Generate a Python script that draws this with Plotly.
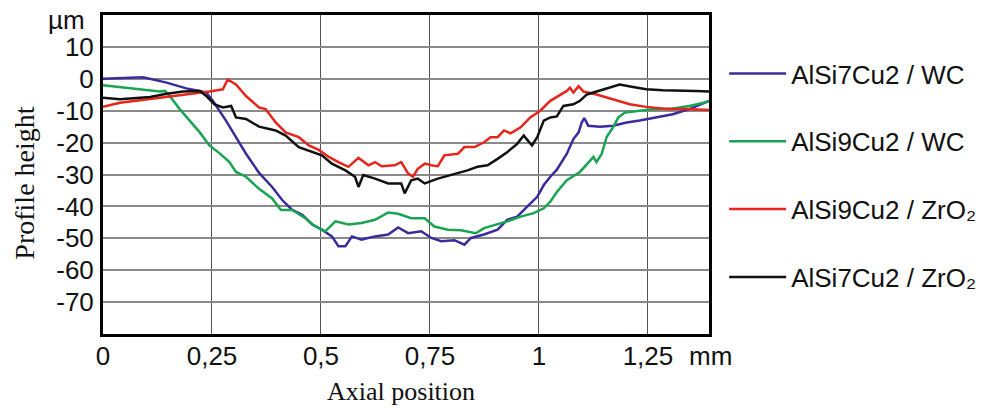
import plotly.graph_objects as go

# ---- data ----
x_blue = [0.0, 0.092, 0.146, 0.191, 0.222, 0.237, 0.252, 0.282, 0.305, 0.328, 0.358, 0.366, 0.388, 0.411, 0.434,
          0.457, 0.480, 0.502, 0.525, 0.540, 0.556, 0.571, 0.593, 0.624, 0.654, 0.677, 0.700, 0.730, 0.753, 0.776,
          0.806, 0.829, 0.844, 0.874, 0.905, 0.927, 0.950, 0.973, 0.996, 1.011, 1.026, 1.041, 1.064, 1.079, 1.091,
          1.098, 1.104, 1.113, 1.140, 1.170, 1.201, 1.231, 1.269, 1.307, 1.345, 1.390]
y_blue = [0.0, 0.5, -1.2, -3.0, -3.8, -4.3, -6.9, -13.1, -18.3, -23.5, -29.5, -30.7, -33.9, -38.0, -41.1,
          -42.6, -45.7, -47.3, -49.4, -52.5, -52.5, -49.4, -50.4, -49.4, -48.8, -46.6, -48.4, -47.8, -49.9, -50.9,
          -50.6, -52.0, -49.9, -48.8, -47.3, -44.2, -43.2, -40.1, -37.0, -33.3, -30.7, -28.5, -23.5, -18.9, -16.8,
          -13.7, -12.3, -14.7, -15.0, -14.7, -13.7, -13.1, -12.1, -11.1, -9.5, -6.9]

x_green = [0.0, 0.039, 0.085, 0.130, 0.142, 0.153, 0.176, 0.199, 0.222, 0.244, 0.267, 0.290, 0.305, 0.328, 0.358,
           0.388, 0.408, 0.434, 0.464, 0.487, 0.510, 0.533, 0.563, 0.593, 0.624, 0.654, 0.677, 0.707, 0.738, 0.760,
           0.791, 0.821, 0.855, 0.874, 0.905, 0.927, 0.958, 0.988, 1.011, 1.026, 1.041, 1.064, 1.094, 1.110, 1.125,
           1.132, 1.144, 1.155, 1.170, 1.182, 1.197, 1.231, 1.269, 1.307, 1.345, 1.390]
y_green = [-2.0, -2.6, -3.3, -4.0, -3.8, -5.4, -9.5, -13.1, -16.8, -20.9, -23.3, -26.1, -29.2, -30.7, -34.5,
           -37.5, -41.1, -41.1, -43.7, -46.3, -47.8, -44.7, -45.7, -45.2, -44.2, -41.9, -42.3, -43.7, -43.7, -46.3,
           -47.3, -47.5, -48.4, -46.8, -45.7, -44.7, -43.2, -42.1, -40.6, -38.5, -35.5, -31.8, -29.2, -26.6, -24.5,
           -26.1, -23.5, -18.3, -15.2, -12.1, -10.6, -10.0, -9.5, -9.3, -8.5, -7.1]

x_red = [0.0, 0.039, 0.085, 0.146, 0.191, 0.244, 0.275, 0.286, 0.305, 0.328, 0.358, 0.373, 0.396, 0.419, 0.449,
         0.472, 0.495, 0.518, 0.540, 0.563, 0.586, 0.609, 0.624, 0.639, 0.669, 0.684, 0.700, 0.711, 0.722, 0.738,
         0.753, 0.768, 0.783, 0.814, 0.829, 0.852, 0.874, 0.889, 0.905, 0.920, 0.935, 0.958, 0.980, 1.003, 1.026,
         1.041, 1.064, 1.071, 1.079, 1.091, 1.102, 1.132, 1.170, 1.208, 1.246, 1.292, 1.337, 1.390]
y_red = [-8.8, -7.5, -6.7, -5.7, -4.9, -4.0, -3.3, -0.2, -1.8, -5.4, -9.0, -9.5, -13.7, -16.8, -18.3,
         -20.9, -22.3, -24.5, -26.1, -27.6, -24.8, -27.1, -26.1, -27.4, -27.1, -26.1, -29.7, -30.7, -28.2, -26.6,
         -27.1, -27.4, -24.0, -23.5, -21.4, -21.4, -19.9, -18.3, -18.3, -16.2, -17.1, -15.2, -12.1, -10.0, -6.9,
         -5.6, -3.8, -2.8, -4.3, -2.3, -4.0, -4.9, -6.4, -8.0, -8.8, -9.5, -9.5, -9.8]

x_black = [0.0, 0.039, 0.070, 0.108, 0.146, 0.184, 0.222, 0.237, 0.256, 0.275, 0.294, 0.305, 0.328, 0.358, 0.396,
           0.419, 0.449, 0.480, 0.502, 0.525, 0.556, 0.578, 0.586, 0.597, 0.624, 0.654, 0.684, 0.692, 0.707, 0.722,
           0.738, 0.768, 0.791, 0.814, 0.836, 0.859, 0.882, 0.905, 0.927, 0.950, 0.965, 0.984, 0.996, 1.011, 1.026,
           1.041, 1.056, 1.079, 1.094, 1.110, 1.132, 1.155, 1.185, 1.216, 1.246, 1.284, 1.322, 1.360, 1.390]
y_black = [-5.9, -6.4, -6.1, -5.7, -4.7, -4.0, -3.8, -5.4, -8.0, -9.0, -8.5, -12.1, -12.6, -15.0, -16.2,
           -17.8, -21.4, -23.0, -24.0, -26.6, -28.7, -30.7, -33.9, -30.2, -31.3, -32.8, -32.8, -35.9, -31.8, -31.3,
           -32.8, -31.3, -30.5, -29.7, -28.7, -27.6, -27.1, -25.1, -23.0, -20.4, -17.8, -20.9, -18.3, -13.1, -12.1,
           -11.8, -8.5, -8.0, -6.9, -4.9, -4.0, -3.0, -1.8, -2.6, -3.3, -3.6, -3.6, -3.8, -4.0]

series_names = ["AlSi7Cu2 / WC", "AlSi9Cu2 / WC", "AlSi9Cu2 / ZrO₂", "AlSi7Cu2 / ZrO₂"]
series_colors = ["#3a2c9c", "#19a452", "#e6261c", "#111111"]

x_tickvals = [0, 0.25, 0.5, 0.75, 1, 1.25]
x_ticktext = ["0", "0,25", "0,5", "0,75", "1", "1,25"]
y_tickvals = [10, 0, -10, -20, -30, -40, -50, -60, -70]
y_ticktext = ["10", "0", "-10", "-20", "-30", "-40", "-50", "-60", "-70"]

fig = go.Figure()
for i, (xs, ys) in enumerate([(x_blue, y_blue), (x_green, y_green), (x_red, y_red), (x_black, y_black)]):
    fig.add_trace(go.Scatter(x=xs, y=ys, mode="lines", name=series_names[i],
                             legendgroup=f"g{i}",
                             line=dict(color=series_colors[i], width=2.5)))

sans = "Liberation Sans, Arial, sans-serif"
serif = "Liberation Serif, Times New Roman, serif"

fig.update_layout(
    width=993, height=408,
    margin=dict(l=103, r=280, t=12, b=74),
    paper_bgcolor="white", plot_bgcolor="white",
    font=dict(family=sans, size=26, color="black"),
    showlegend=True,
    legend=dict(x=1.025, y=0.89, xanchor="left", yanchor="top",
                font=dict(family=sans, size=26, color="#111"),
                tracegroupgap=31, itemwidth=57, bgcolor="rgba(0,0,0,0)",
                traceorder="grouped"),
    xaxis=dict(range=[0, 1.39], tickvals=x_tickvals, ticktext=x_ticktext,
               showgrid=True, gridcolor="#555555", gridwidth=1,
               showline=True, linecolor="black", linewidth=3, mirror=True,
               zeroline=False, ticks="", ticklabelstandoff=-3,
               tickfont=dict(family=sans, size=26, color="#111")),
    yaxis=dict(range=[-80, 20], tickvals=y_tickvals, ticktext=y_ticktext,
               showgrid=True, gridcolor="#8a8a8a", gridwidth=1.5,
               showline=True, linecolor="black", linewidth=3, mirror=True,
               zeroline=False, ticks="", ticklabelstandoff=1,
               tickfont=dict(family=sans, size=26, color="#111")),
    annotations=[
        dict(text="µm", xref="paper", yref="paper", x=-0.060, y=0.984,
             xanchor="center", yanchor="middle", showarrow=False,
             font=dict(family=sans, size=26, color="#111")),
        dict(text="mm", xref="paper", yref="paper", x=1.003, y=-0.068,
             xanchor="center", yanchor="middle", showarrow=False,
             font=dict(family=sans, size=26, color="#111")),
        dict(text="Axial position", xref="paper", yref="paper", x=0.492, y=-0.180,
             xanchor="center", yanchor="middle", showarrow=False,
             font=dict(family=serif, size=26, color="#111")),
        dict(text="Profile height", xref="paper", yref="paper", x=-0.130, y=0.472,
             xanchor="center", yanchor="middle", showarrow=False, textangle=-90,
             font=dict(family=serif, size=28, color="#111")),
    ],
)

fig.write_html("out.html")
